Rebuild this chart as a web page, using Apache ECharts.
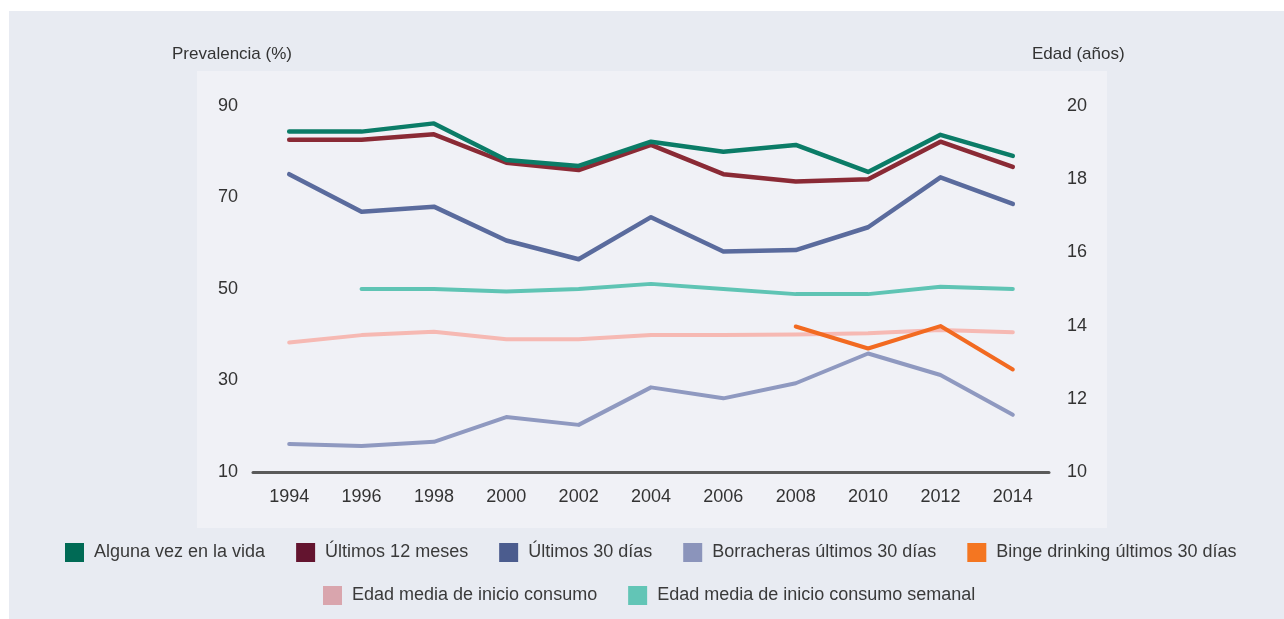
<!DOCTYPE html>
<html>
<head>
<meta charset="utf-8">
<script src="https://cdn.jsdelivr.net/npm/echarts@6/dist/echarts.min.js"></script>
<style>
  html, body { margin: 0; padding: 0; background: #ffffff; }
  #chart { width: 1284px; height: 619px; }
</style>
</head>
<body>
<div id="chart"></div>
<script>
var years = ['1994', '1996', '1998', '2000', '2002', '2004', '2006', '2008', '2010', '2012', '2014'];

// prevalencia (%)
var algunaVez = [84.4, 84.4, 86.2, 78.2, 76.9, 82.2, 80.0, 81.5, 75.6, 83.7, 79.1];
var ultimos12 = [82.6, 82.6, 83.8, 77.6, 76.0, 81.5, 75.1, 73.5, 74.0, 82.2, 76.7];
var ultimos30 = [75.1, 66.9, 68.0, 60.6, 56.5, 65.7, 58.2, 58.5, 63.5, 74.4, 68.6];
var borracheras = [16.1, 15.7, 16.6, 22.0, 20.3, 28.5, 26.1, 29.4, 35.9, 31.2, 22.5];
var binge = [null, null, null, null, null, null, null, 41.8, 37.0, 41.9, 32.4];

// edad (años)
var edadInicio = [13.54, 13.74, 13.83, 13.63, 13.63, 13.74, 13.74, 13.76, 13.79, 13.88, 13.82];
var edadSemanal = [null, 15.0, 15.0, 14.93, 15.0, 15.14, 15.0, 14.86, 14.86, 15.06, 15.0];

var leftTicks = [10, 30, 50, 70, 90];
var rightTicks = [10, 12, 14, 16, 18, 20];

var FONT = "'Liberation Sans', Arial, Helvetica, sans-serif";

var myChart = echarts.init(document.getElementById('chart'), null, {renderer: 'canvas'});

function lineSeries(name, data, iconColor, lineColor, width, axis) {
    return {
        name: name,
        type: 'line',
        yAxisIndex: axis,
        data: data,
        symbol: 'none',
        smooth: false,
        connectNulls: false,
        itemStyle: {color: iconColor},
        lineStyle: {color: lineColor, width: width, cap: 'round', join: 'round'},
        emphasis: {disabled: true}
    };
}

var legendText = {color: '#3a3a3a', fontSize: 18, fontFamily: FONT, padding: [0, 0, 0, 5]};

var option = {
    backgroundColor: '#ffffff',
    animation: false,
    textStyle: {fontFamily: FONT},
    graphic: [
        {type: 'rect', z: -10, shape: {x: 9, y: 11, width: 1275, height: 608}, style: {fill: '#e8ebf2'}},
        {type: 'rect', z: -9, shape: {x: 197, y: 71, width: 910, height: 457}, style: {fill: '#f0f1f6'}},
        {type: 'text', left: 172, top: 46, style: {text: 'Prevalencia (%)', fontSize: 17, fontFamily: FONT, fill: '#333'}},
        {type: 'text', left: 1032, top: 46, style: {text: 'Edad (años)', fontSize: 17, fontFamily: FONT, fill: '#333'}}
    ],
    legend: [
        {
            left: 65, top: 543, padding: 0, itemWidth: 19, itemHeight: 19, itemGap: 31, icon: 'rect',
            textStyle: legendText,
            data: ['Alguna vez en la vida', 'Últimos 12 meses', 'Últimos 30 días', 'Borracheras últimos 30 días', 'Binge drinking últimos 30 días']
        },
        {
            left: 323, top: 586, padding: 0, itemWidth: 19, itemHeight: 19, itemGap: 31, icon: 'rect',
            textStyle: legendText,
            data: ['Edad media de inicio consumo', 'Edad media de inicio consumo semanal']
        }
    ],
    grid: {left: 253, right: 235, top: 106, bottom: 147},
    xAxis: {
        type: 'category',
        data: years,
        boundaryGap: true,
        axisLine: {show: true, lineStyle: {color: '#5a5a5a', width: 3}},
        axisTick: {show: false},
        axisLabel: {color: '#333', fontSize: 18, fontFamily: FONT, margin: 16},
        splitLine: {show: false}
    },
    yAxis: [
        {
            type: 'value', position: 'left',
            min: leftTicks[0], max: leftTicks[leftTicks.length - 1], interval: 20,
            axisLine: {show: false}, axisTick: {show: false}, splitLine: {show: false},
            axisLabel: {color: '#333', fontSize: 18, fontFamily: FONT, margin: 15}
        },
        {
            type: 'value', position: 'right',
            min: rightTicks[0], max: rightTicks[rightTicks.length - 1], interval: 2,
            axisLine: {show: false}, axisTick: {show: false}, splitLine: {show: false},
            axisLabel: {color: '#333', fontSize: 18, fontFamily: FONT, margin: 18}
        }
    ],
    series: [
        lineSeries('Edad media de inicio consumo', edadInicio, '#d9a5ad', '#f6b9b3', 4, 1),
        lineSeries('Edad media de inicio consumo semanal', edadSemanal, '#62c5b6', '#5fc4b4', 4, 1),
        lineSeries('Borracheras últimos 30 días', borracheras, '#8b94bb', '#8f99c0', 4, 0),
        lineSeries('Binge drinking últimos 30 días', binge, '#f47621', '#f26a21', 4, 0),
        lineSeries('Últimos 30 días', ultimos30, '#4b5c8e', '#5a6b9d', 4.5, 0),
        lineSeries('Últimos 12 meses', ultimos12, '#63142f', '#8a2a35', 4.5, 0),
        lineSeries('Alguna vez en la vida', algunaVez, '#006a55', '#0b7c67', 4.5, 0)
    ]
};

myChart.setOption(option);
</script>
</body>
</html>
